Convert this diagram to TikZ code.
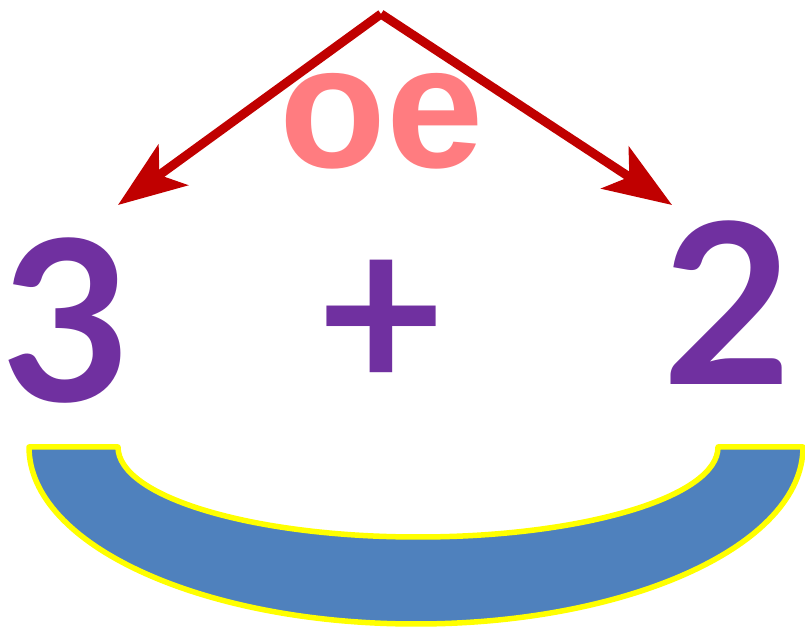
\documentclass[tikz,border=0pt]{standalone}
\usepackage{fontspec}
\usepackage{tikz}
\usetikzlibrary{arrows.meta,positioning}
\newfontfamily\numfont{Lato}
\newfontfamily\soundfont{Liberation Sans}
\definecolor{sumPurple}{HTML}{7030A0}
\definecolor{sumSalmon}{HTML}{FF7C80}
\definecolor{sumRed}{HTML}{C00000}
\definecolor{sumBlue}{HTML}{4F81BD}
\definecolor{sumYellow}{HTML}{FFFF00}

\begin{document}
\begin{tikzpicture}[
        x=1pt, y=1pt,
        digit/.style={
            anchor=base,
            inner sep=0pt,
            text=sumPurple,
            font=\numfont\bfseries\fontsize{224}{224}\selectfont
        },
        sound/.style={
            anchor=base,
            inner sep=0pt,
            text=sumSalmon,
            font=\soundfont\bfseries\fontsize{175}{175}\selectfont
        },
        arrow/.style={
            -{Stealth[length=68pt,width=50pt,inset=17pt]},
            line width=9pt,
            draw=sumRed
        },
        bowl/.style={
            fill=sumBlue,
            draw=sumYellow,
            line width=5.5pt,
            line join=round
        }
    ]
    \useasboundingbox (0,0) rectangle (805,628);

    % bowl under the sum
    \draw[bowl] (29,181) -- (118,181)
        arc[start angle=180, end angle=360, x radius=300, y radius=90]
        -- (803,181)
        arc[start angle=0, end angle=-180, x radius=387, y radius=177]
        -- cycle;

    % numbers
    \node[digit] (three) at (66,226) {3};
    \node[digit] (plus) at (381,236) {+};
    \node[digit] (two) at (727,243) {2};

    % sound
    \node[sound] (oe) at (382,460) {oe};

    % split arrows
    \coordinate (apex) at (381,614);
    \coordinate (tipthree) at (118,423);
    \coordinate (tiptwo) at (672,423);
    \draw[arrow] (apex) -- (tipthree);
    \draw[arrow] (apex) -- (tiptwo);

\end{tikzpicture}
\end{document}
